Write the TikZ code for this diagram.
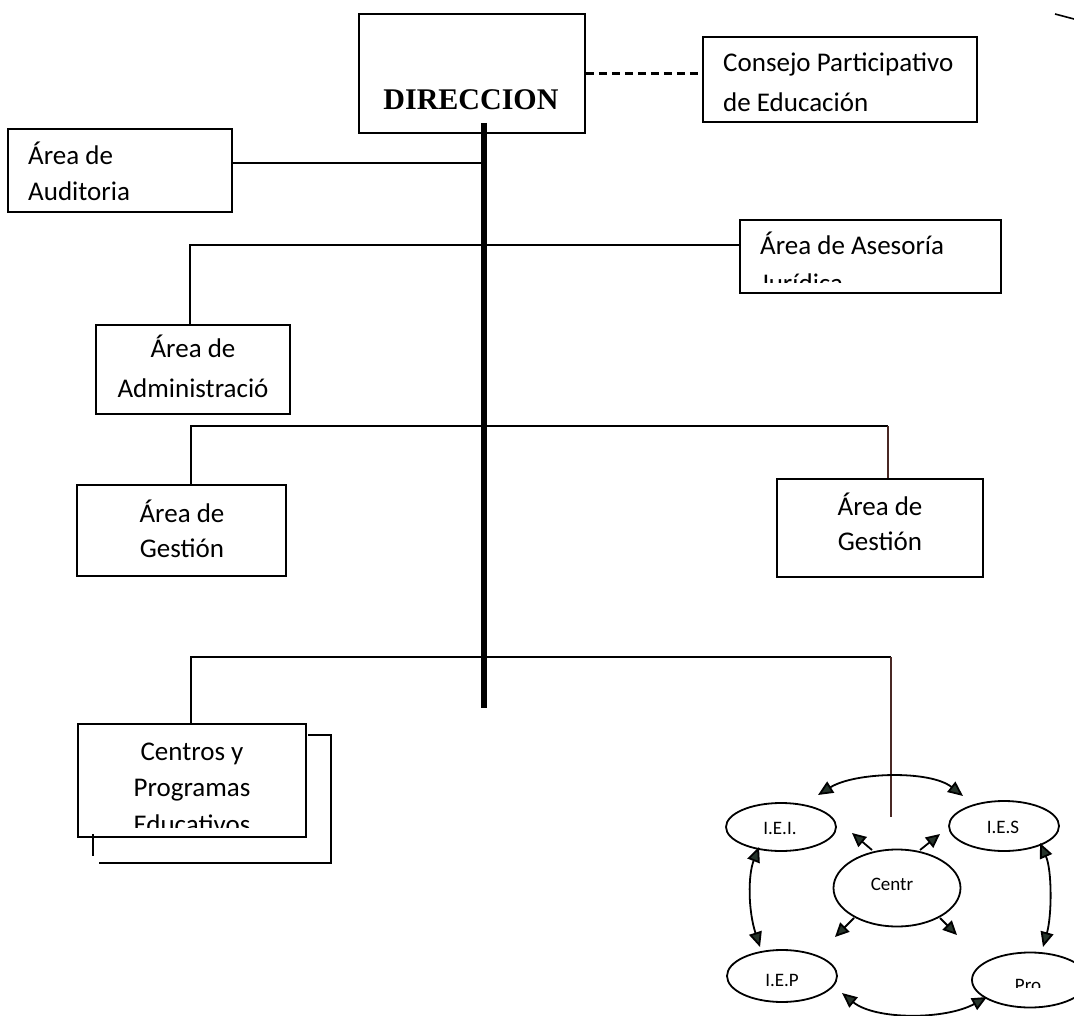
\documentclass[tikz,border=0pt]{standalone}
\usepackage{fontspec}
\setmainfont{Carlito}
\newfontfamily\timesf{Liberation Serif}
\usetikzlibrary{arrows.meta,shapes.geometric,calc}
\definecolor{tipfill}{HTML}{26342B}
\definecolor{brownline}{HTML}{4A2824}
\begin{document}
\begin{tikzpicture}[x=1pt,y=-1pt,
  box/.style={draw,line width=1.8pt,rectangle,inner sep=0pt},
  txt/.style={inner sep=0pt,font=\fontsize{27}{32}\selectfont},
  etxt/.style={inner sep=0pt,font=\fontsize{19}{23}\selectfont},
  conn/.style={line width=1.7pt},
  trunk/.style={line width=5.5pt},
  ell/.style={draw,ellipse,line width=1.8pt,inner sep=0pt},
  dbl/.style={line width=1.8pt,{Triangle[length=15pt,width=13pt,fill=tipfill]}-{Triangle[length=15pt,width=13pt,fill=tipfill]}},
  one/.style={line width=1.8pt,-{Triangle[length=14pt,width=13pt,fill=tipfill]}}]
\useasboundingbox (0,0) rectangle (1074,1016);

% DIRECCION
\node[box,minimum width=226pt,minimum height=119pt] (dir) at (472,73.5) {};
\node[anchor=base,inner sep=0pt,font=\timesf\bfseries\fontsize{30}{36}\selectfont] (dirt) at (471,110) {DIRECCION};

% Consejo
\node[box,minimum width=274pt,minimum height=85pt] (cons) at (840,79.5) {};
\node[txt,anchor=base west] (cons1) at (723,72) {Consejo Participativo};
\node[txt,anchor=base west] (cons2) at (723,112) {de Educación};
\draw[line width=2.2pt,dash pattern=on 8pt off 5pt] (dir.east) -- (dir.east -| cons.west);

% trunk
\coordinate (ttop) at (484,123);
\coordinate (tbot) at (484,708);
\draw[trunk] (ttop) -- (tbot);

% Auditoria
\node[box,minimum width=224pt,minimum height=83pt] (aud) at (120,170.5) {};
\node[txt,anchor=base west] (aud1) at (28,165) {Área de};
\node[txt,anchor=base west] (aud2) at (28,201) {Auditoria};
\coordinate (j1) at (484,163);
\draw[conn] (aud.east |- j1) -- (j1);

% Asesoria
\node[box,minimum width=261pt,minimum height=73pt] (ases) at (870.5,256.5) {};
\begin{scope}
\clip (740,220) rectangle (1001,283);
\node[txt,anchor=base west] (ases1) at (760,255) {Área de Asesoría};
\node[txt,anchor=base west] (ases2) at (760,293) {Jurídica};
\end{scope}

% Administracion
\node[box,minimum width=194pt,minimum height=89pt] (adm) at (193,369.5) {};
\node[txt,anchor=base] (adm1) at (193,358) {Área de};
\node[txt,anchor=base] (adm2) at (193,397) {Administració};
\coordinate (h2) at (190,245);
\draw[conn] (ases.west |- h2) -- (h2) -- (h2 |- adm.north);

% Gestion
\node[box,minimum width=209pt,minimum height=91pt] (gl) at (181.5,530.5) {};
\node[txt,anchor=base] (gl1) at (182,522) {Área de};
\node[txt,anchor=base] (gl2) at (182,557) {Gestión};
\node[box,minimum width=206pt,minimum height=98pt] (gr) at (880,528) {};
\node[txt,anchor=base] (gr1) at (880,515) {Área de};
\node[txt,anchor=base] (gr2) at (880,550) {Gestión};
\coordinate (h3L) at (191,426);
\coordinate (h3R) at (888,426);
\draw[conn] (h3L |- gl.north) -- (h3L) -- (h3R);
\draw[conn,brownline] (h3R) -- (h3R |- gr.north);

% Centros
\node[box,minimum width=228pt,minimum height=113pt] (cen) at (192,780.5) {};
\begin{scope}
\clip (78,724) rectangle (306,827);
\node[txt,anchor=base] (cen1) at (192,760) {Centros y};
\node[txt,anchor=base] (cen2) at (192,796) {Programas};
\node[txt,anchor=base] (cen3) at (192,833) {Educativos};
\end{scope}
\draw[conn] (308,735) -- (331,735) -- (331,863) -- (99,863);
\draw[conn] (93,834) -- (93,856);

% bottom branch
\coordinate (h4L) at (191,657);
\coordinate (h4R) at (891,657);
\coordinate (h4E) at (891,817);
\draw[conn] (h4L |- cen.north) -- (h4L) -- (h4R);
\draw[conn,brownline] (h4R) -- (h4E);

% ellipses
\node[ell,minimum width=110pt,minimum height=48pt] (iei) at (781,827) {};
\node[ell,minimum width=110pt,minimum height=50pt] (ies) at (1004,826) {};
\node[ell,minimum width=127pt,minimum height=77pt] (centr) at (897,888) {};
\node[ell,minimum width=110pt,minimum height=52pt] (iep) at (782,976) {};
\begin{scope}
\clip (0,0) rectangle (1074,1016);
\node[ell,minimum width=116pt,minimum height=55pt] (pro) at (1030,980) {};
\end{scope}
\node[etxt,anchor=base] (iei1) at (780,834) {I.E.I.};
\node[etxt,anchor=base] (ies1) at (1003,833) {I.E.S};
\node[etxt,anchor=base] (centr1) at (892,890) {Centr};
\node[etxt,anchor=base] (iep1) at (782,986) {I.E.P};
\begin{scope}
\clip (973,950) rectangle (1074,987);
\node[etxt,anchor=base] (pro1) at (1028,991) {Pro};
\end{scope}

% double arrows
\draw[dbl] ($(iei.center)+(37,-32)$) .. controls (855,772) and (930,770) .. ($(ies.center)+(-41,-30)$);
\draw[dbl] ($(iei.center)+(-22,20)$) .. controls (748,875) and (748,910) .. ($(iep.center)+(-22,-29)$);
\draw[dbl] ($(ies.center)+(36,17)$) .. controls (1052,870) and (1052,915) .. ($(pro.center)+(13,-33)$);
\draw[dbl] ($(iep.center)+(60,17)$) .. controls (875,1020) and (945,1020) .. ($(pro.center)+(-43,17)$);

% single arrows from Centr
\draw[one] ($(centr.center)+(-25,-38)$) -- ($(centr.center)+(-45,-55)$);
\draw[one] ($(centr.center)+(23,-38)$) -- ($(centr.center)+(43,-54)$);
\draw[one] ($(centr.center)+(-43,30)$) -- ($(centr.center)+(-62,49)$);
\draw[one] ($(centr.center)+(43,30)$) -- ($(centr.center)+(60,47)$);

% corner mark
\coordinate (cm1) at (1055,14);
\coordinate (cm2) at (1074,19);
\draw[line width=1.6pt] (cm1) -- (cm2);
\end{tikzpicture}
\end{document}
